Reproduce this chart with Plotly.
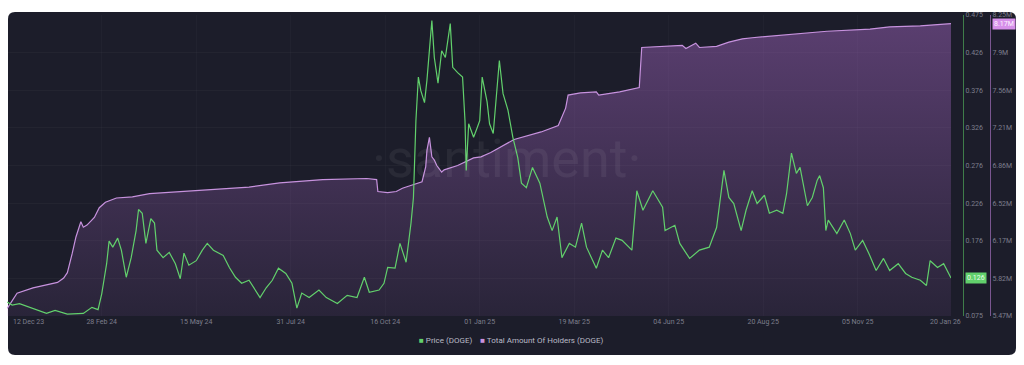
import plotly.graph_objects as go

# ---------------- data ----------------
price_dates = [
    "2023-12-13", "2023-12-17", "2023-12-23", "2024-01-03", "2024-01-14", "2024-01-21", "2024-01-31",
    "2024-02-13", "2024-02-20", "2024-02-25", "2024-02-28", "2024-03-01", "2024-03-03", "2024-03-05",
    "2024-03-08", "2024-03-12", "2024-03-15", "2024-03-19", "2024-03-23", "2024-03-27", "2024-03-29",
    "2024-04-01", "2024-04-04", "2024-04-08", "2024-04-11", "2024-04-13", "2024-04-18", "2024-04-23",
    "2024-04-28", "2024-05-02", "2024-05-05", "2024-05-09", "2024-05-15", "2024-05-20", "2024-05-24",
    "2024-05-29", "2024-06-06", "2024-06-11", "2024-06-16", "2024-06-21", "2024-06-27", "2024-07-06",
    "2024-07-11", "2024-07-16", "2024-07-21", "2024-07-27", "2024-08-01", "2024-08-05", "2024-08-09",
    "2024-08-15", "2024-08-23", "2024-08-29", "2024-09-07", "2024-09-15", "2024-09-23", "2024-09-29",
    "2024-10-03", "2024-10-11", "2024-10-15", "2024-10-18", "2024-10-24", "2024-10-28", "2024-11-02",
    "2024-11-06", "2024-11-08", "2024-11-10", "2024-11-12", "2024-11-14", "2024-11-17", "2024-11-19",
    "2024-11-23", "2024-11-25", "2024-11-28", "2024-12-01", "2024-12-04", "2024-12-08", "2024-12-10",
    "2024-12-14", "2024-12-18", "2024-12-20", "2024-12-21", "2024-12-23", "2024-12-27", "2024-12-30",
    "2025-01-01", "2025-01-03", "2025-01-07", "2025-01-09", "2025-01-12", "2025-01-17", "2025-01-20",
    "2025-01-24", "2025-01-28", "2025-02-01", "2025-02-04", "2025-02-08", "2025-02-13", "2025-02-19",
    "2025-02-25", "2025-03-01", "2025-03-05", "2025-03-09", "2025-03-15", "2025-03-20", "2025-03-25",
    "2025-03-29", "2025-04-06", "2025-04-11", "2025-04-16", "2025-04-22", "2025-04-27", "2025-05-05",
    "2025-05-09", "2025-05-14", "2025-05-22", "2025-05-30", "2025-06-01", "2025-06-09", "2025-06-13",
    "2025-06-21", "2025-06-29", "2025-07-07", "2025-07-13", "2025-07-19", "2025-07-23", "2025-07-27",
    "2025-08-02", "2025-08-06", "2025-08-11", "2025-08-15", "2025-08-21", "2025-08-25", "2025-08-31",
    "2025-09-05", "2025-09-08", "2025-09-12", "2025-09-16", "2025-09-19", "2025-09-23", "2025-09-25",
    "2025-09-29", "2025-10-03", "2025-10-05", "2025-10-08", "2025-10-10", "2025-10-12", "2025-10-19",
    "2025-10-25", "2025-10-30", "2025-11-03", "2025-11-09", "2025-11-14", "2025-11-20", "2025-11-26",
    "2025-12-01", "2025-12-08", "2025-12-14", "2025-12-19", "2025-12-26", "2025-12-31", "2026-01-03",
    "2026-01-09", "2026-01-14", "2026-01-17", "2026-01-20",
]
price_values = [
    0.094, 0.090, 0.092, 0.086, 0.079, 0.083, 0.078,
    0.079, 0.087, 0.084, 0.105, 0.125, 0.145, 0.175,
    0.167, 0.179, 0.163, 0.127, 0.153, 0.189, 0.217,
    0.212, 0.172, 0.205, 0.199, 0.163, 0.153, 0.160,
    0.145, 0.125, 0.159, 0.143, 0.149, 0.163, 0.172,
    0.163, 0.156, 0.140, 0.127, 0.119, 0.123, 0.100,
    0.113, 0.123, 0.139, 0.132, 0.119, 0.086, 0.106,
    0.100, 0.110, 0.100, 0.092, 0.103, 0.100, 0.127,
    0.107, 0.110, 0.119, 0.140, 0.139, 0.172, 0.147,
    0.199, 0.233, 0.335, 0.393, 0.375, 0.359, 0.389,
    0.468, 0.419, 0.385, 0.428, 0.419, 0.464, 0.406,
    0.399, 0.393, 0.335, 0.269, 0.331, 0.313, 0.326,
    0.335, 0.393, 0.360, 0.331, 0.318, 0.415, 0.371,
    0.349, 0.313, 0.286, 0.252, 0.246, 0.273, 0.252,
    0.207, 0.189, 0.207, 0.153, 0.172, 0.167, 0.199,
    0.167, 0.139, 0.163, 0.153, 0.179, 0.176, 0.163,
    0.242, 0.216, 0.242, 0.220, 0.189, 0.196, 0.172,
    0.152, 0.163, 0.167, 0.193, 0.269, 0.233, 0.225,
    0.189, 0.216, 0.242, 0.225, 0.236, 0.212, 0.216,
    0.212, 0.238, 0.292, 0.265, 0.273, 0.238, 0.222,
    0.233, 0.256, 0.262, 0.246, 0.189, 0.203, 0.185,
    0.203, 0.185, 0.163, 0.176, 0.159, 0.136, 0.152,
    0.136, 0.145, 0.132, 0.127, 0.123, 0.116, 0.149,
    0.140, 0.145, 0.136, 0.126,
]

holder_dates = [
    "2023-12-13", "2023-12-21", "2024-01-03", "2024-01-14", "2024-01-23", "2024-01-28", "2024-01-31",
    "2024-02-04", "2024-02-07", "2024-02-11", "2024-02-13", "2024-02-16", "2024-02-22", "2024-02-26",
    "2024-03-02", "2024-03-11", "2024-03-24", "2024-04-07", "2024-05-04", "2024-06-01", "2024-06-27",
    "2024-07-22", "2024-08-26", "2024-10-01", "2024-10-09", "2024-10-10", "2024-10-18", "2024-10-25",
    "2024-10-30", "2024-11-07", "2024-11-15", "2024-11-18", "2024-11-19", "2024-11-21", "2024-11-23",
    "2024-11-25", "2024-11-27", "2024-12-01", "2024-12-03", "2024-12-14", "2024-12-27", "2025-01-02",
    "2025-01-10", "2025-01-29", "2025-02-20", "2025-03-06", "2025-03-09", "2025-03-12", "2025-03-14",
    "2025-03-24", "2025-04-06", "2025-04-08", "2025-04-25", "2025-05-11", "2025-05-13", "2025-05-30",
    "2025-06-15", "2025-06-18", "2025-06-26", "2025-06-29", "2025-07-13", "2025-07-23", "2025-08-03",
    "2025-08-11", "2025-09-08", "2025-10-11", "2025-11-15", "2025-12-01", "2025-12-26", "2026-01-20",
]
holder_values_m = [
    5.54, 5.68, 5.73, 5.76, 5.78, 5.82, 5.87,
    6.05, 6.20, 6.34, 6.29, 6.31, 6.38, 6.47,
    6.52, 6.56, 6.57, 6.60, 6.62, 6.64, 6.66,
    6.70, 6.73, 6.74, 6.73, 6.62, 6.61, 6.62,
    6.65, 6.68, 6.71, 6.85, 7.00, 7.12, 6.94,
    6.91, 6.86, 6.80, 6.82, 6.86, 6.93, 6.94,
    6.98, 7.10, 7.17, 7.23, 7.31, 7.39, 7.51,
    7.53, 7.54, 7.51, 7.54, 7.58, 7.95, 7.96,
    7.97, 7.94, 7.99, 7.95, 7.96, 8.00, 8.03,
    8.04, 8.07, 8.10, 8.12, 8.14, 8.15, 8.17,
]

x_tick_dates = ["2023-12-12", "2024-02-28", "2024-05-15", "2024-07-31", "2024-10-16", "2025-01-01",
                "2025-03-19", "2025-06-04", "2025-08-20", "2025-11-05", "2026-01-20"]
x_tick_labels = ["12 Dec 23", "28 Feb 24", "15 May 24", "31 Jul 24", "16 Oct 24", "01 Jan 25",
                 "19 Mar 25", "04 Jun 25", "20 Aug 25", "05 Nov 25", "20 Jan 26"]
price_tick_labels = ["0.075", "0.126", "0.176", "0.226", "0.276", "0.326", "0.376", "0.426", "0.475"]
holder_tick_labels = ["5.47M", "5.82M", "6.17M", "6.52M", "6.86M", "7.21M", "7.56M", "7.9M", "8.25M"]
series_names = ["Price (DOGE)", "Total Amount Of Holders (DOGE)"]
price_last_label = "0.126"
holder_last_label = "8.17M"

# ---------------- styling ----------------
W, H = 1024, 365
ML, MR, MT, MB = 6, 14, 15, 49
PANEL = "#1c1d2a"
GREEN = "#62d06c"
PINK = "#c792de"
TICK_COLOR = "#7c7e8c"
FONT = "Roboto"

price_range = [0.0755, 0.4755]
holder_range = [5.47, 8.25]
n_t = len(price_tick_labels)
price_tickvals = [price_range[0] + i * (price_range[1] - price_range[0]) / (n_t - 1) for i in range(n_t)]
holder_tickvals = [holder_range[0] + i * (holder_range[1] - holder_range[0]) / (n_t - 1) for i in range(n_t)]

pw = W - ML - MR
ph = H - MT - MB


def px_x(X):
    return (X - ML) / pw


def px_y(Y):
    return (H - MB - Y) / ph


NB = "\u00a0"

fig = go.Figure()

fig.add_trace(go.Scatter(
    x=holder_dates, y=holder_values_m, mode="lines", yaxis="y",
    line=dict(color=PINK, width=1.2), fill="tozeroy",
    fillgradient=dict(type="vertical", start=holder_range[0], stop=holder_range[1],
                      colorscale=[[0, "rgba(160,100,190,0.10)"], [1, "rgba(160,100,190,0.48)"]]),
    name=series_names[1], showlegend=False, hoverinfo="skip",
))
fig.add_trace(go.Scatter(
    x=price_dates, y=price_values, mode="lines", yaxis="y2",
    line=dict(color=GREEN, width=1.2), name=series_names[0], showlegend=False, hoverinfo="skip",
))

x_dom_end = px_x(951)

# rounded dark panel
x0, x1 = px_x(8), px_x(1016)
y0, y1 = px_y(355), px_y(12)
rx, ry = 7 / pw, 7 / ph
panel_path = (f"M {x0+rx},{y1} L {x1-rx},{y1} Q {x1},{y1} {x1},{y1-ry} L {x1},{y0+ry} "
              f"Q {x1},{y0} {x1-rx},{y0} L {x0+rx},{y0} Q {x0},{y0} {x0},{y0+ry} "
              f"L {x0},{y1-ry} Q {x0},{y1} {x0+rx},{y1} Z")

legend_text = (f"<span style='color:{GREEN}'>■</span> {series_names[0]}"
               f"{NB * 4}<span style='color:{PINK}'>■</span> {series_names[1]}")

tick_font = dict(size=7, color=TICK_COLOR, family=FONT)

fig.update_layout(
    width=W, height=H, autosize=False,
    margin=dict(l=ML, r=MR, t=MT, b=MB),
    paper_bgcolor="white", plot_bgcolor="rgba(0,0,0,0)",
    font=dict(family=FONT, color=TICK_COLOR, size=7),
    showlegend=False,
    shapes=[dict(type="path", path=panel_path, xref="paper", yref="paper",
                 fillcolor=PANEL, line=dict(width=0), layer="below")],
    xaxis=dict(
        domain=[0, x_dom_end], range=["2023-12-12", "2026-01-20"], type="date",
        tickvals=x_tick_dates[1:-1], ticktext=x_tick_labels[1:-1], tickangle=0,
        tickfont=tick_font,
        showgrid=True, gridcolor="rgba(255,255,255,0.025)", zeroline=False,
        showline=False, ticks="", automargin=False,
    ),
    yaxis=dict(
        range=holder_range, anchor="free", position=px_x(990), side="right",
        tickvals=holder_tickvals, ticktext=holder_tick_labels, tickfont=tick_font,
        showline=True, linecolor="#7a5690", linewidth=1,
        showgrid=False, zeroline=False, ticks="", automargin=False,
    ),
    yaxis2=dict(
        range=price_range, anchor="free", position=px_x(963), side="right", overlaying="y",
        tickvals=price_tickvals, ticktext=price_tick_labels, tickfont=tick_font,
        showline=True, linecolor="#3f7d4a", linewidth=1,
        showgrid=True, gridcolor="rgba(255,255,255,0.03)", zeroline=False, ticks="", automargin=False,
    ),
    annotations=[
        dict(text="·santiment·", x=px_x(507), y=px_y(158), xref="paper", yref="paper",
             showarrow=False, font=dict(size=54, color="rgba(255,255,255,0.06)", family=FONT)),
        dict(text=price_last_label, x=px_x(965), y=price_values[-1], xref="paper", yref="y2",
             xanchor="left", showarrow=False, bgcolor=GREEN, borderpad=1,
             font=dict(size=7, color="#eaffea", family=FONT)),
        dict(text=holder_last_label, x=px_x(992), y=holder_values_m[-1], xref="paper", yref="y",
             xanchor="left", showarrow=False, bgcolor="#d690ea", borderpad=1,
             font=dict(size=7, color="#fff5ff", family=FONT)),
        # first and last x tick labels, clamped inside the chart like the original
        dict(text=x_tick_labels[0], x=px_x(11), y=px_y(322), xref="paper", yref="paper",
             xanchor="left", yanchor="middle", showarrow=False, font=tick_font),
        dict(text=x_tick_labels[-1], x=px_x(963), y=px_y(322), xref="paper", yref="paper",
             xanchor="right", yanchor="middle", showarrow=False, font=tick_font),
        dict(text=legend_text, x=px_x(511), y=px_y(340), xref="paper", yref="paper",
             xanchor="center", yanchor="middle", showarrow=False,
             font=dict(size=8, color="#b9bac6", family=FONT)),
    ],
)

fig.write_html("out.html")
